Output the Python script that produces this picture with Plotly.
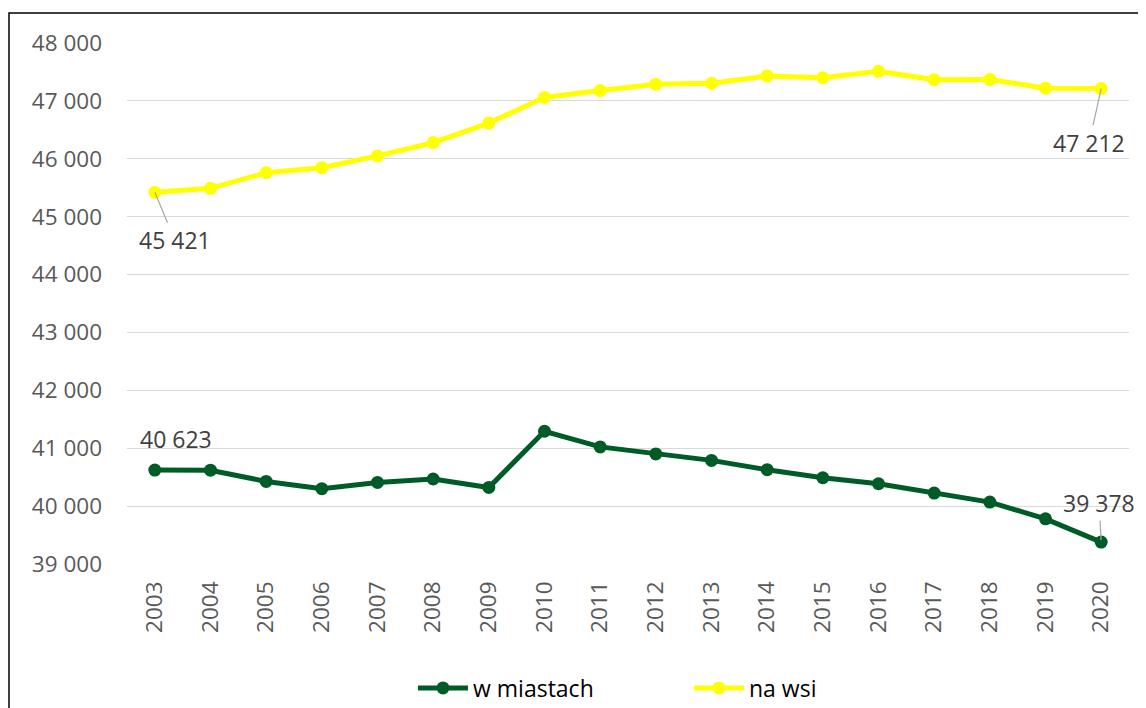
import plotly.graph_objects as go

years = [str(y) for y in range(2003, 2021)]
w_miastach = [40623, 40620, 40426, 40300, 40409, 40468, 40322, 41293, 41023, 40901,
              40790, 40629, 40490, 40386, 40225, 40069, 39780, 39378]
na_wsi = [45421, 45490, 45760, 45846, 46050, 46280, 46616, 47060, 47178, 47288,
          47305, 47430, 47400, 47510, 47365, 47370, 47220, 47212]
y_ticks = list(range(39000, 49000, 1000))

FONT = "Open Sans"
GREEN = "#005C27"
YELLOW = "#FFFF00"
TS = 22.5

# page body adds an 8px offset; plot area target (screen): x 127..1129, y 43..564
OFF = 8
L, T = 127 - OFF, 43 - OFF
R = 1146 - (1129 - OFF)
B = 708 - (564 - OFF)
PW, PH = 1002, 521


def fmt(v):
    return f"{v:,}".replace(",", " ")


fig = go.Figure()
fig.add_trace(go.Scatter(x=years, y=w_miastach, name="w miastach", mode="lines+markers",
                         line=dict(color=GREEN, width=5), marker=dict(color=GREEN, size=13)))
fig.add_trace(go.Scatter(x=years, y=na_wsi, name="na wsi", mode="lines+markers",
                         line=dict(color=YELLOW, width=5), marker=dict(color=YELLOW, size=13)))

first, last = 0, len(years) - 1
ann_font = dict(family=FONT, size=23, color="#404040")
fig.add_annotation(x=first, y=na_wsi[first], text=fmt(na_wsi[first]), showarrow=True,
                   ax=20, ay=48, arrowhead=0, arrowwidth=1.2, arrowcolor="#A6A6A6",
                   standoff=0, font=ann_font)
fig.add_annotation(x=last, y=na_wsi[last], text=fmt(na_wsi[last]), showarrow=True,
                   ax=-12, ay=54, arrowhead=0, arrowwidth=1.2, arrowcolor="#A6A6A6",
                   standoff=0, font=ann_font)
fig.add_annotation(x=first, y=w_miastach[first], text=fmt(w_miastach[first]), showarrow=False,
                   xshift=21, yshift=31, font=ann_font)
fig.add_annotation(x=last, y=w_miastach[last], text=fmt(w_miastach[last]), showarrow=True,
                   ax=-2, ay=-39, arrowhead=0, arrowwidth=1.2, arrowcolor="#A6A6A6",
                   standoff=2, font=ann_font)

# outer chart border (top and left visible)
fig.add_shape(type="rect", xref="paper", yref="paper",
              x0=(9 - OFF - L) / PW, x1=1.3, y0=-0.6, y1=(564 - 13) / PH,
              line=dict(color="black", width=1.5), fillcolor="rgba(0,0,0,0)", layer="below")

fig.update_layout(
    width=1146, height=708,
    margin=dict(l=L, r=R, t=T, b=B, autoexpand=False),
    paper_bgcolor="white", plot_bgcolor="white",
    separators=", ",
    font=dict(family=FONT, size=TS, color="#595959"),
    showlegend=True,
    legend=dict(orientation="h", x=(619 + 70 - 127) / PW, xanchor="center",
                y=(564 - 688) / PH, yanchor="middle",
                font=dict(family=FONT, size=23, color="#000000"),
                entrywidth=211, itemwidth=50),
)
fig.update_xaxes(type="category", range=[-0.5, 17.5], tickangle=-90, showgrid=False,
                 showline=False, ticks="", ticklabelstandoff=12, automargin=False,
                 tickfont=dict(family=FONT, size=TS, color="#595959"))
fig.update_yaxes(range=[39000, 48000], tickvals=y_ticks, tickformat=",d",
                 showgrid=True, gridcolor="#D9D9D9", gridwidth=1.3, zeroline=False,
                 showline=False, ticks="", ticklabelstandoff=24, automargin=False,
                 tickfont=dict(family=FONT, size=TS, color="#595959"))

fig.write_html("out.html")
